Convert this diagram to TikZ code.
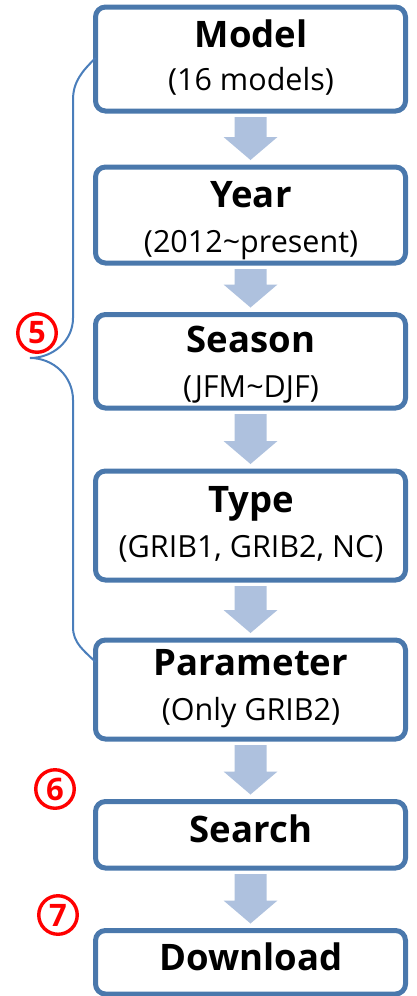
\documentclass[tikz,border=0pt]{standalone}
\usepackage{fontspec}
\setmainfont{Open Sans}
\usetikzlibrary{calc}
\definecolor{boxblue}{RGB}{74,120,172}
\definecolor{arrowblue}{RGB}{174,193,222}
\definecolor{braceblue}{RGB}{74,126,187}
\tikzset{
 box/.style={draw=boxblue, line width=5pt, rounded corners=10pt, fill=white, minimum width=310pt, outer sep=0pt, inner sep=0pt},
 title/.style={font=\fontsize{36.5}{36}\selectfont\bfseries, anchor=base, inner sep=0pt},
 sub/.style={font=\fontsize{30.5}{30}\selectfont, anchor=base, inner sep=0pt},
 num/.style={circle, draw=red, line width=3.4pt, minimum size=38.5pt, inner sep=0pt, text=red, font=\fontsize{31}{31}\selectfont\bfseries},
 brace/.style={draw=braceblue, line width=2pt},
}
\newcommand{\blockarrow}[2]{%
 \fill[arrowblue] let \p1=(#1.south), \p2=(#2.north) in
 (\x1-16pt,\y1-6pt) -- (\x1+16pt,\y1-6pt) -- (\x1+16pt,\y2+30pt) -- (\x1+27pt,\y2+30pt) -- (\x1,\y2+7pt) -- (\x1-27pt,\y2+30pt) -- (\x1-16pt,\y2+30pt) -- cycle;}
\begin{document}
\begin{tikzpicture}[x=1pt,y=1pt]
\useasboundingbox (0,0) rectangle (416,-996);
% boxes
\node[box, minimum height=104pt] (b1) at (250.5,-59) {};
\node[box, minimum height=96pt] (b2) at (250.5,-215) {};
\node[box, minimum height=93.5pt] (b3) at (250.5,-361.25) {};
\node[box, minimum height=109pt] (b4) at (250.5,-525.5) {};
\node[box, minimum height=99pt] (b5) at (250.5,-689.5) {};
\node[box, minimum height=66.5pt] (b6) at (250.5,-834.75) {};
\node[box, minimum height=63.5pt] (b7) at (250.5,-962.25) {};
% texts
\node[title] (t1) at (251,-47) {Model};
\node[sub] (s1) at (251,-90) {(16 models)};
\node[title] (t2) at (251,-207) {Year};
\node[sub] (s2) at (251,-252) {(2012\char`~present)};
\node[title] (t3) at (251,-352) {Season};
\node[sub] (s3) at (251,-397) {(JFM\char`~DJF)};
\node[title] (t4) at (251,-512) {Type};
\node[sub] (s4) at (251,-557) {(GRIB1, GRIB2, NC)};
\node[title] (t5) at (251,-675) {Parameter};
\node[sub] (s5) at (251,-720) {(Only GRIB2)};
\node[title] (t6) at (251,-842) {Search};
\node[title] (t7) at (251,-970) {Download};
% arrows
\blockarrow{b1}{b2}
\blockarrow{b2}{b3}
\blockarrow{b3}{b4}
\blockarrow{b4}{b5}
\blockarrow{b5}{b6}
\blockarrow{b6}{b7}
% brace
\coordinate (bs) at (95.5,-58);
\coordinate (be) at (95.5,-662);
\draw[brace] (bs) to[out=225,in=90] (73,-100) -- (73,-318) to[out=-90,in=0] (30,-358)
  to[out=0,in=90] (73,-400) -- (73,-627) to[out=-90,in=135] (be);
% numbers
\node[num] (n5) at (37,-333) {5};
\node[num] (n6) at (55,-789) {6};
\node[num] (n7) at (58,-915) {7};
\end{tikzpicture}
\end{document}
